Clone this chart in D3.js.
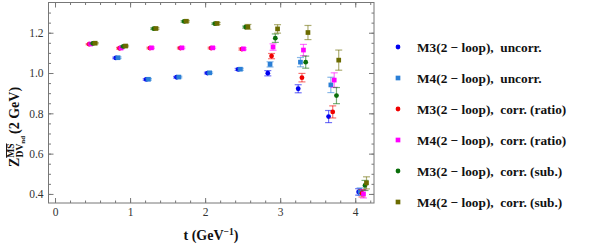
<!DOCTYPE html>
<html>
<head>
<meta charset="utf-8">
<script src="https://cdn.jsdelivr.net/npm/d3@7"></script>
<style>
  body { margin: 0; background: #fff; }
  svg { display: block; font-family: "Liberation Serif", "DejaVu Serif", serif; }
</style>
</head>
<body>
<div id="chart"></div>
<script>
var width = 612
var height = 249

// series data
var seriesNames = [
  'M3(2 \u2212 loop),  uncorr.',
  'M4(2 \u2212 loop),  uncorr.',
  'M3(2 \u2212 loop),  corr. (ratio)',
  'M4(2 \u2212 loop),  corr. (ratio)',
  'M3(2 \u2212 loop),  corr. (sub.)',
  'M4(2 \u2212 loop),  corr. (sub.)'
]
var seriesColors = ['#0000f0', '#2a7fd6', '#f00000', '#ff00ff', '#0a6e0a', '#6b6b00']
var seriesShapes = ['circle', 'square', 'circle', 'square', 'circle', 'square']

var tM3unc = [0.81, 1.215, 1.62, 2.03, 2.44, 2.835, 3.24, 3.645, 4.045]
var zM3unc = [1.075, 0.968, 0.979, 1.000, 1.018, 0.999, 0.922, 0.784, 0.410]
var eM3unc = [0.004, 0.004, 0.004, 0.004, 0.005, 0.013, 0.020, 0.030, 0.016]

var tM4unc = [0.84, 1.245, 1.65, 2.06, 2.47, 2.865, 3.27, 3.675, 4.065]
var zM4unc = [1.076, 0.969, 0.980, 1.001, 1.019, 1.043, 1.054, 0.941, 0.412]
var eM4unc = [0.004, 0.004, 0.004, 0.004, 0.005, 0.013, 0.023, 0.038, 0.018]

var tM3ratio = [0.455, 0.86, 1.265, 1.67, 2.08, 2.49, 2.885, 3.29, 3.70, 4.09]
var zM3ratio = [1.143, 1.123, 1.124, 1.124, 1.124, 1.119, 1.084, 0.977, 0.807, 0.403]
var eM3ratio = [0.003, 0.004, 0.004, 0.004, 0.004, 0.005, 0.013, 0.021, 0.030, 0.018]

var tM4ratio = [0.475, 0.88, 1.285, 1.69, 2.10, 2.51, 2.905, 3.31, 3.72, 4.11]
var zM4ratio = [1.144, 1.124, 1.125, 1.125, 1.125, 1.120, 1.129, 1.114, 0.965, 0.400]
var eM4ratio = [0.003, 0.004, 0.004, 0.004, 0.004, 0.005, 0.016, 0.028, 0.036, 0.020]

var tM3sub = [0.505, 0.91, 1.315, 1.72, 2.13, 2.54, 2.935, 3.34, 3.75, 4.13]
var zM3sub = [1.147, 1.132, 1.220, 1.256, 1.245, 1.228, 1.173, 1.054, 0.888, 0.442]
var eM3sub = [0.003, 0.004, 0.004, 0.004, 0.004, 0.005, 0.021, 0.030, 0.040, 0.025]

var tM4sub = [0.535, 0.94, 1.345, 1.75, 2.16, 2.57, 2.965, 3.37, 3.78, 4.15]
var zM4sub = [1.148, 1.134, 1.221, 1.257, 1.246, 1.229, 1.219, 1.201, 1.064, 0.455]
var eM4sub = [0.003, 0.004, 0.004, 0.004, 0.005, 0.012, 0.021, 0.035, 0.050, 0.030]

var xTicks = [0, 1, 2, 3, 4]
var yTicks = [0.4, 0.6, 0.8, 1.0, 1.2]

var allT = [tM3unc, tM4unc, tM3ratio, tM4ratio, tM3sub, tM4sub]
var allZ = [zM3unc, zM4unc, zM3ratio, zM4ratio, zM3sub, zM4sub]
var allE = [eM3unc, eM4unc, eM3ratio, eM4ratio, eM3sub, eM4sub]

var series = seriesNames.map(function(name, i) {
  return {
    name: name,
    color: seriesColors[i],
    shape: seriesShapes[i],
    points: allT[i].map(function(t, j) {
      return { t: t, z: allZ[i][j], e: allE[i][j] }
    })
  }
})

var plot = { left: 48.5, right: 374, top: 2.5, bottom: 203 }

var xScale = d3.scaleLinear()
  .domain([-0.087, 4.25])
  .range([plot.left, plot.right])

var yScale = d3.scaleLinear()
  .domain([0.355, 1.35])
  .range([plot.bottom, plot.top])

var svg = d3.select('#chart')
  .append('svg')
  .attr('width', width)
  .attr('height', height)

var frameColor = '#777'

// minor ticks on all four sides, pointing inward
var xMinor = d3.range(0, 4.25, 0.2)
var yMinor = d3.range(0.4, 1.35, 0.05)

function tickAxes(axisFn, scale, ticks, size, pos, horizontal, labels) {
  var ax = axisFn(scale)
    .tickValues(ticks)
    .tickSizeInner(size)
    .tickSizeOuter(0)
    .tickPadding(labels ? 5 : 0)
    .tickFormat(labels ? d3.format('.1f') : '')
  var g = svg.append('g')
    .attr('transform', horizontal ? `translate(0,${pos})` : `translate(${pos},0)`)
    .call(ax)
  g.select('.domain').remove()
  g.selectAll('line').attr('stroke', frameColor)
  return g
}

tickAxes(d3.axisBottom, xScale, xMinor, -2.5, plot.bottom, true, false)
tickAxes(d3.axisTop, xScale, xMinor, -2.5, plot.top, true, false)
tickAxes(d3.axisLeft, yScale, yMinor, -2.5, plot.left, false, false)
tickAxes(d3.axisRight, yScale, yMinor, -2.5, plot.right, false, false)

var xg = tickAxes(d3.axisBottom, xScale, xTicks, -5, plot.bottom, true, true)
xg.selectAll('text').text(d => d3.format('d')(d))
tickAxes(d3.axisTop, xScale, xTicks, -5, plot.top, true, false)
tickAxes(d3.axisLeft, yScale, yTicks, -5, plot.left, false, true)
tickAxes(d3.axisRight, yScale, yTicks, -5, plot.right, false, false)

svg.selectAll('.tick text')
  .style('font-family', '"Liberation Serif", serif')
  .style('font-size', '11.5px')
  .attr('fill', '#333')

svg.append('rect')
  .attr('x', plot.left)
  .attr('y', plot.top)
  .attr('width', plot.right - plot.left)
  .attr('height', plot.bottom - plot.top)
  .attr('fill', 'none')
  .attr('stroke', frameColor)
  .attr('stroke-width', 1)

// error bars and markers
var capW = 3.5
series.forEach(function(s) {
  var g = svg.append('g').attr('class', 'series')
  var bars = g.selectAll('g.err')
    .data(s.points)
    .join('g')
    .attr('class', 'err')
    .attr('stroke', s.color)
    .attr('stroke-opacity', 0.55)
    .attr('stroke-width', 1.2)
  bars.append('line')
    .attr('x1', d => xScale(d.t)).attr('x2', d => xScale(d.t))
    .attr('y1', d => yScale(d.z - d.e)).attr('y2', d => yScale(d.z + d.e))
  bars.append('line')
    .attr('x1', d => xScale(d.t) - capW).attr('x2', d => xScale(d.t) + capW)
    .attr('y1', d => yScale(d.z - d.e)).attr('y2', d => yScale(d.z - d.e))
  bars.append('line')
    .attr('x1', d => xScale(d.t) - capW).attr('x2', d => xScale(d.t) + capW)
    .attr('y1', d => yScale(d.z + d.e)).attr('y2', d => yScale(d.z + d.e))

  var sym = d3.symbol()
    .type(s.shape === 'circle' ? d3.symbolCircle : d3.symbolSquare)
    .size(s.shape === 'circle' ? 18 : 22)
  g.selectAll('path.mark')
    .data(s.points)
    .join('path')
    .attr('class', 'mark')
    .attr('d', sym)
    .attr('transform', d => `translate(${xScale(d.t)},${yScale(d.z)})`)
    .attr('fill', s.color)
})

// legend
var legend = svg.append('g')
  .attr('transform', 'translate(398,47)')
var rows = legend.selectAll('g')
  .data(series)
  .join('g')
  .attr('transform', (d, i) => `translate(0,${i * 31})`)
rows.append('path')
  .attr('d', d => d3.symbol()
    .type(d.shape === 'circle' ? d3.symbolCircle : d3.symbolSquare)
    .size(d.shape === 'circle' ? 18 : 22)())
  .attr('fill', d => d.color)
rows.append('text')
  .attr('x', 19)
  .attr('y', 4.5)
  .style('font-size', '13.3px')
  .style('font-weight', 'bold')
  .style('white-space', 'pre')
  .attr('fill', '#111')
  .text(d => d.name)

// x label
var xl = svg.append('text')
  .attr('x', 211)
  .attr('y', 240)
  .attr('text-anchor', 'middle')
  .style('font-size', '14px')
  .style('font-weight', 'bold')
  .attr('fill', '#111')
xl.append('tspan').text('t (GeV')
xl.append('tspan').attr('dy', -5).style('font-size', '9.5px').text('\u22121')
xl.append('tspan').attr('dy', 5).text(')')

// y label
var yl = svg.append('text')
  .attr('transform', 'translate(19,127) rotate(-90)')
  .attr('text-anchor', 'middle')
  .style('font-size', '14px')
  .style('font-weight', 'bold')
  .attr('fill', '#111')
yl.append('tspan').text('Z')
yl.append('tspan').attr('dy', -5).style('font-size', '9.5px')
  .style('text-decoration', 'overline').text('MS')
yl.append('tspan').attr('dx', -14).attr('dy', 9).style('font-size', '9.5px').text('DV')
yl.append('tspan').attr('dy', 2).style('font-size', '7px').text('nd')
yl.append('tspan').attr('dy', -6).attr('dx', 2).text('(2 GeV)')
</script>
</body>
</html>
